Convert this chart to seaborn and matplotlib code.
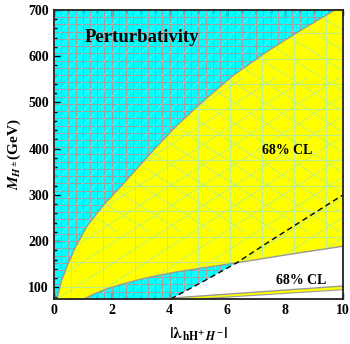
import matplotlib
matplotlib.use("Agg")
import matplotlib.pyplot as plt
import seaborn as sns
import numpy as np
import pandas as pd
from matplotlib.patches import Polygon

# boundary of the perturbativity region (left edge of the big yellow band)
lam_up = [0.11, 0.25, 0.46, 0.75, 1.15, 1.7, 2.31, 2.9, 3.46, 4.2, 5.02, 6.17, 7.32, 8.48, 9.72]
m_up = [75, 112, 147, 188, 233, 277, 318, 359, 398, 447, 495, 557, 608, 654, 700]

# lower edge of the big 68% CL band
lam_low = [1.04, 1.4, 1.8, 2.31, 2.9, 3.46, 4.2, 5.02, 6.32, 8.0, 10.0]
m_low = [75, 86, 96, 106, 116, 124, 133, 141, 153, 170, 189]

# dashed line
lam_dash = [4.04, 5.17, 6.32, 7.47, 10.0]
m_dash = [75, 113, 153, 200, 300]

# thin lower 68% CL band
lam_band_top = [3.63, 10.0]
m_band_top = [75, 103]
lam_band_bot = [5.0, 10.0]
m_band_bot = [75, 95]

x_ticks = [0, 2, 4, 6, 8, 10]
y_ticks = [100, 200, 300, 400, 500, 600, 700]

sns.set_style("ticks")
plt.rcParams['font.family'] = ['Liberation Serif', 'DejaVu Serif']
plt.rcParams['mathtext.fontset'] = 'stix'
plt.rcParams['font.weight'] = 'bold'
plt.rcParams['text.color'] = 'black'
plt.rcParams['axes.labelcolor'] = 'black'
plt.rcParams['xtick.color'] = 'black'
plt.rcParams['ytick.color'] = 'black'

fig = plt.figure(figsize=(3.5, 3.44), dpi=100)
ax = fig.add_axes([0.154, 0.131, 0.826, 0.840])
xmin, xmax, ymin, ymax = 0, 10, 75, 700
ax.set_xlim(xmin, xmax)
ax.set_ylim(ymin, ymax)

# cyan background with grey mesh
ax.set_facecolor('#00ffff')
for gx in np.linspace(xmin, xmax, 41):
    ax.axvline(gx, color='#a0a0a0', lw=0.7, zorder=1)
for gy in np.linspace(ymin, ymax, 41):
    ax.axhline(gy, color='#a0a0a0', lw=0.7, zorder=1)
for c in np.arange(-10, 12, 0.5):
    xs = np.array([c, c + 10])
    ax.plot(xs, ymin + (xs - c) * 62.5, color='white', lw=0.4, ls=(0, (4, 3)), alpha=0.6, zorder=1)

# big yellow band
poly_pts = list(zip(lam_up, m_up)) + [(10, 700)] + list(zip(lam_low[::-1], m_low[::-1]))
yellow = Polygon(poly_pts, closed=True, facecolor='#ffff00', edgecolor='none', zorder=2)
ax.add_patch(yellow)
pale = '#b8f08a'
lines = []
for gx in np.arange(0.6, 10, 1.1):
    lines.append(ax.axvline(gx, color=pale, lw=0.7, zorder=3))
for gy in np.arange(100, 700, 55):
    lines.append(ax.axhline(gy, color=pale, lw=0.7, zorder=3))
for c in np.arange(-12, 12, 1.1):
    xs = np.array([c, c + 12])
    lines += ax.plot(xs, ymin + (xs - c) * 40, color=pale, lw=0.6, zorder=3)
    lines += ax.plot(xs, ymax - (xs - c) * 40, color=pale, lw=0.6, zorder=3)
for ln in lines:
    ln.set_clip_path(yellow)

# white region below the band
white_pts = list(zip(lam_dash[:3], m_dash[:3])) + list(zip(lam_low[8:], m_low[8:])) + [(10, 75)]
ax.add_patch(Polygon(white_pts, closed=True, facecolor='white', edgecolor='none', zorder=4))

# thin lower yellow band
band_pts = list(zip(lam_band_top, m_band_top)) + list(zip(lam_band_bot[::-1], m_band_bot[::-1]))
ax.add_patch(Polygon(band_pts, closed=True, facecolor='#ffff00', edgecolor='none', zorder=5))

up = pd.DataFrame({'lam': lam_up, 'm': m_up})
low = pd.DataFrame({'lam': lam_low, 'm': m_low})
dash = pd.DataFrame({'lam': lam_dash, 'm': m_dash})
bt = pd.DataFrame({'lam': lam_band_top, 'm': m_band_top})
bb = pd.DataFrame({'lam': lam_band_bot, 'm': m_band_bot})
grey = '#999999'
sns.lineplot(data=up, x='lam', y='m', color=grey, lw=1.0, ax=ax, zorder=6)
sns.lineplot(data=low, x='lam', y='m', color=grey, lw=1.0, ax=ax, zorder=6)
sns.lineplot(data=bt, x='lam', y='m', color=grey, lw=1.0, ax=ax, zorder=6)
sns.lineplot(data=bb, x='lam', y='m', color=grey, lw=0.8, ax=ax, zorder=6)
sns.lineplot(data=dash, x='lam', y='m', color='black', lw=1.0, ls=(0, (4, 2.5)), ax=ax, zorder=7)

ax.text(3.05, 640, 'Perturbativity', fontsize=13.5, fontweight='bold', ha='center', va='center', zorder=8)
ax.text(8.06, 396, '68% CL', fontsize=10, fontweight='bold', ha='center', va='center', zorder=8)
ax.text(8.56, 114, '68% CL', fontsize=10, fontweight='bold', ha='center', va='center', zorder=8)

ax.set_xticks(x_ticks)
ax.set_yticks(y_ticks)
ax.set_xticks(np.arange(0, 10.01, 0.5), minor=True)
ax.set_yticks(np.arange(80, 700, 20), minor=True)
ax.tick_params(which='both', direction='in', top=True, right=True, labelsize=10, width=1.0)
ax.tick_params(which='major', length=4)
ax.tick_params(which='minor', length=2.5)
for lbl in ax.get_xticklabels() + ax.get_yticklabels():
    lbl.set_fontweight('bold')
for sp in ax.spines.values():
    sp.set_linewidth(1.3)
    sp.set_color('#222222')
    sp.set_zorder(10)

ax.set_xlabel(r'$|\mathbf{\lambda}_{\mathbf{hH^{+}}\,H^{-}}|$', fontsize=12, labelpad=6)
ax.set_ylabel(r'$\boldsymbol{M_{H^{\pm}}}$(GeV)', fontsize=11, fontweight='bold', labelpad=4)

fig.savefig('out.png', dpi=100)
